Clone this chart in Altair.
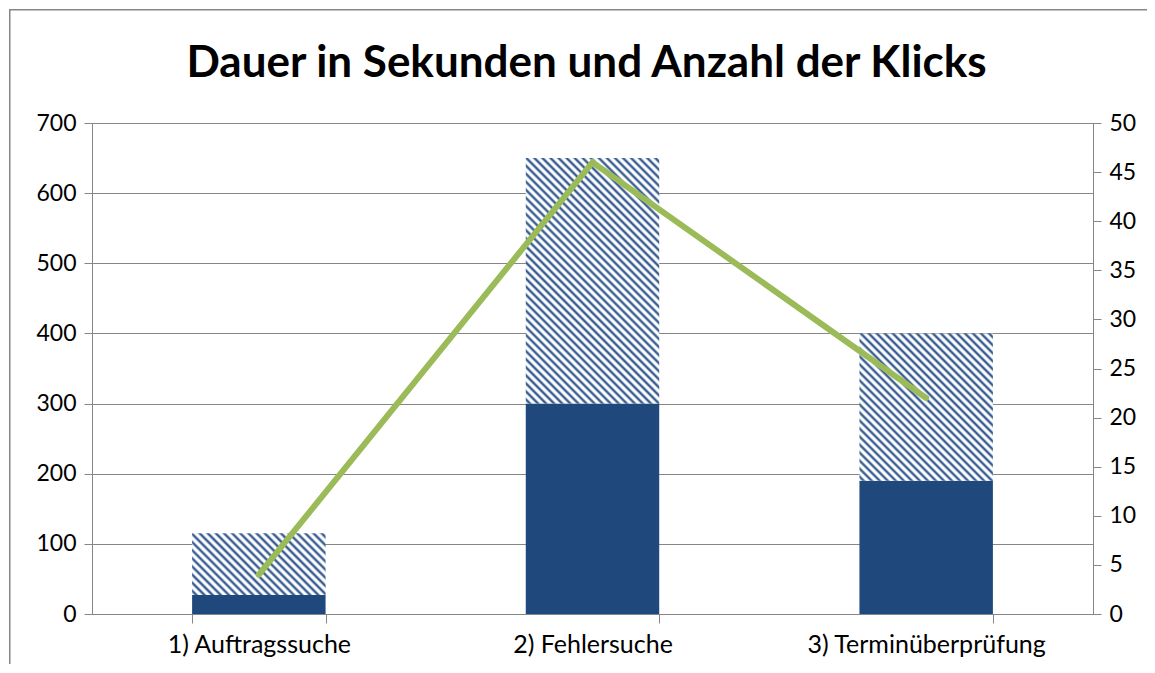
import altair as alt
import pandas as pd

kategorien = ["1) Auftragssuche", "2) Fehlersuche", "3) Terminüberprüfung"]
dauer_teil = [27, 300, 190]      # solid part (seconds)
dauer_gesamt = [115, 650, 400]   # top of hatched part (seconds)
klicks = [4, 46, 22]             # right axis
titel = "Dauer in Sekunden und Anzahl der Klicks"

W, H = 1001, 491
Y_MAX = 700
BLUE = "#1F497D"
STRIPE = "#3A5E92"
SOFT = "#A9B9D0"
WHITE = "#FFFFFF"
GREEN = "#9BBB59"
GRAY = "#868686"
FONT = "Lato"

df = pd.DataFrame({
    "kategorie": kategorien,
    "teil": dauer_teil,
    "gesamt": dauer_gesamt,
    "klicks": klicks,
})

step = W / (3 - 0.6 + 2 * 0.3)
bar_w = step * 0.4


def hatch(w, h, period=8.0):
    n = max(1, round((w + h) / period))
    t = (w + h) / (w * w + h * h)
    stops = []
    for i in range(n):
        b = i / n
        d = 1 / n
        stops += [
            alt.GradientStop(offset=b, color=WHITE),
            alt.GradientStop(offset=b + 0.15 * d, color=WHITE),
            alt.GradientStop(offset=b + 0.3 * d, color=SOFT),
            alt.GradientStop(offset=b + 0.45 * d, color=STRIPE),
            alt.GradientStop(offset=b + 0.6 * d, color=STRIPE),
            alt.GradientStop(offset=b + 0.75 * d, color=SOFT),
            alt.GradientStop(offset=b + 0.9 * d, color=WHITE),
        ]
    stops.append(alt.GradientStop(offset=1, color=WHITE))
    return alt.LinearGradient(gradient="linear", stops=stops,
                              x1=0, y1=1, x2=t * w, y2=1 - t * h)


x_enc = alt.X(
    "kategorie:N", sort=kategorien, title=None,
    scale=alt.Scale(paddingInner=0.6, paddingOuter=0.3),
    axis=alt.Axis(labelAngle=0, labelFontSize=25, labelFont=FONT, labelColor="black",
                  domainColor=GRAY, tickColor=GRAY, tickSize=9, tickBand="extent",
                  labelPadding=9, labelLimit=500, grid=False),
)

y_left = alt.Scale(domain=[0, Y_MAX], nice=False)
left_axis = alt.Axis(values=list(range(0, 701, 100)), labelFontSize=23, labelFont=FONT,
                     labelColor="black", domainColor=GRAY, tickColor=GRAY, tickSize=8,
                     gridColor=GRAY, gridWidth=1, grid=True, labelPadding=8, title=None)

base = alt.Chart(df)
one = alt.Chart(pd.DataFrame({"titel": [titel]}))

frame_top = one.mark_rect(fill=GRAY, strokeWidth=0).encode(
    x=alt.value(-83), x2=alt.value(W + 54), y=alt.value(-114), y2=alt.value(-112.5),
)
frame_left = one.mark_rect(fill=GRAY, strokeWidth=0).encode(
    x=alt.value(-83), x2=alt.value(-81.5), y=alt.value(-114), y2=alt.value(H + 50),
)
title_text = one.mark_text(
    fontSize=44, font=FONT, fontWeight="bold", color="black",
    align="center", baseline="alphabetic",
).encode(text="titel:N", x=alt.value(W / 2 - 6), y=alt.value(-46))

solid = base.mark_bar(color=BLUE).encode(
    x=x_enc,
    y=alt.Y("teil:Q", scale=y_left, axis=left_axis),
)

hatched_layers = []
for k, t0, t1 in zip(kategorien, dauer_teil, dauer_gesamt):
    h = (t1 - t0) * H / Y_MAX
    hatched_layers.append(
        base.transform_filter(alt.datum.kategorie == k).mark_bar(color=hatch(bar_w, h)).encode(
            x=x_enc,
            y=alt.Y("teil:Q", scale=y_left, axis=left_axis),
            y2="gesamt:Q",
        )
    )

bars = alt.layer(solid, *hatched_layers)

line = base.mark_line(color=GREEN, strokeWidth=6, strokeCap="round", strokeJoin="miter").encode(
    x=x_enc,
    y=alt.Y("klicks:Q", scale=alt.Scale(domain=[0, 50], nice=False),
            axis=alt.Axis(orient="right", values=list(range(0, 51, 5)), labelFontSize=23,
                          labelFont=FONT, labelColor="black", domainColor=GRAY,
                          tickColor=GRAY, tickSize=8, grid=False, labelPadding=8, title=None)),
)

chart = alt.layer(frame_top, frame_left, title_text, bars, line).resolve_scale(y="independent").properties(
    width=W, height=H,
    autosize=alt.AutoSizeParams(type="none"),
    padding={"left": 84, "top": 115, "right": 54, "bottom": 50},
).configure_view(stroke=None).configure(background="white")

chart.save("out.html", embed_options={"renderer": "svg", "actions": False})
